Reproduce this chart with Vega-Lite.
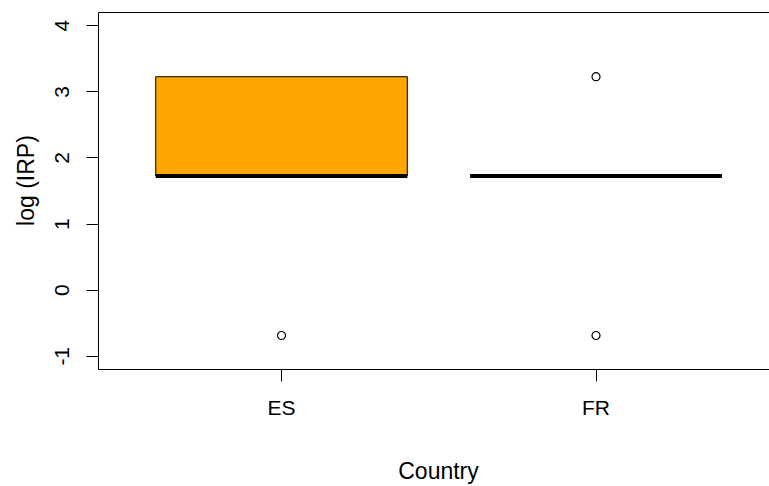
{
  "$schema": "https://vega.github.io/schema/vega-lite/v6.json",
  "width": 672,
  "height": 357,
  "autosize": {"type": "none"},
  "padding": {"left": 98, "top": 12, "right": -1, "bottom": 117},
  "background": "white",
  "config": {
    "view": {"stroke": "black", "strokeWidth": 1},
    "font": "Liberation Sans",
    "axis": {
      "grid": false,
      "domain": false,
      "tickColor": "black",
      "tickWidth": 1,
      "tickSize": 12,
      "labelColor": "black",
      "titleColor": "black",
      "labelFontSize": 21,
      "titleFontSize": 23,
      "titleFontWeight": "normal",
      "labelOverlap": false
    }
  },
  "datasets": {
    "boxes": [
      {"country": "ES", "q1": 1.72, "median": 1.72, "q3": 3.221},
      {"country": "FR", "q1": 1.72, "median": 1.72, "q3": 1.72}
    ],
    "outliers": [
      {"country": "ES", "value": -0.693},
      {"country": "FR", "value": 3.221},
      {"country": "FR", "value": -0.693}
    ]
  },
  "encoding": {
    "x": {
      "field": "country",
      "type": "nominal",
      "scale": {"domain": ["ES", "FR"], "paddingInner": 0.2, "paddingOuter": 0.1684, "align": 0.545},
      "axis": {
        "title": "Country",
        "labelAngle": 0,
        "labelPadding": 16,
        "titleBaseline": "alphabetic",
        "titleX": 340,
        "titleY": 109
      }
    }
  },
  "layer": [
    {
      "data": {"name": "boxes"},
      "mark": {"type": "bar", "fill": "#FFA500", "stroke": "black", "strokeWidth": 1},
      "encoding": {
        "y": {
          "field": "q1",
          "type": "quantitative",
          "scale": {"domain": [-1.2, 4.2], "nice": false, "zero": false},
          "axis": {
            "title": "log (IRP)",
            "values": [-1, 0, 1, 2, 3, 4],
            "labelExpr": "'' + datum.value",
            "labelAngle": 270,
            "labelAlign": "center",
            "labelBaseline": "alphabetic",
            "labelPadding": 18,
            "titleAngle": 270,
            "titleAlign": "center",
            "titleBaseline": "alphabetic",
            "titleX": -65,
            "titleY": 168
          }
        },
        "y2": {"field": "q3"}
      }
    },
    {
      "data": {"name": "boxes"},
      "mark": {"type": "bar", "fill": "black", "stroke": "black", "strokeWidth": 4},
      "encoding": {
        "y": {"field": "median", "type": "quantitative"},
        "y2": {"field": "median"}
      }
    },
    {
      "data": {"name": "outliers"},
      "mark": {"type": "point", "shape": "circle", "filled": false, "stroke": "black", "strokeWidth": 1.2, "size": 64, "opacity": 1},
      "encoding": {
        "y": {"field": "value", "type": "quantitative"}
      }
    }
  ]
}
